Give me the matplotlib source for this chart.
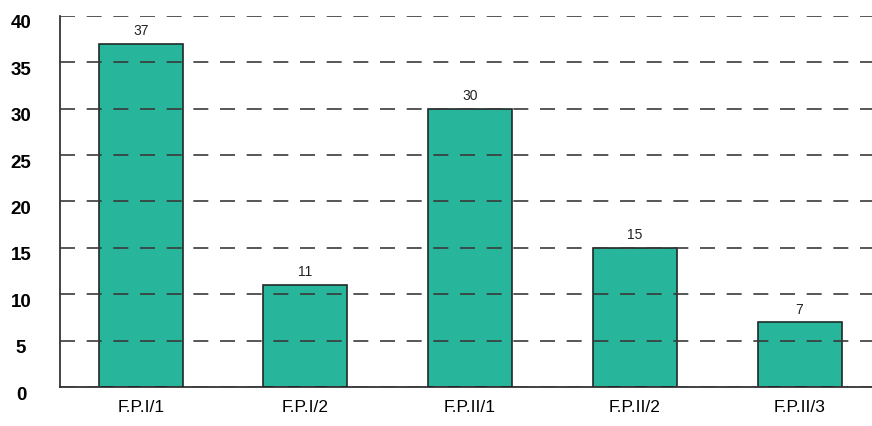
import matplotlib
matplotlib.use("Agg")
import matplotlib.pyplot as plt
import matplotlib.transforms as mtransforms

categories = ["F.P.I/1", "F.P.I/2", "F.P.II/1", "F.P.II/2", "F.P.II/3"]
values = [37, 11, 30, 15, 7]
yticks = [0, 5, 10, 15, 20, 25, 30, 35, 40]

plt.rcParams['font.family'] = ['Liberation Sans', 'DejaVu Sans']

fig = plt.figure(figsize=(8.72, 4.26), dpi=100)
ax = fig.add_axes([0.0688, 0.0915, 0.9312, 0.871])

x = range(len(categories))
bars = ax.bar(x, values, width=0.51, color="#27b59b", edgecolor="#1f2a26", linewidth=1.2, zorder=2)

for xi, v in zip(x, values):
    ax.text(xi, v + 0.6, str(v), ha="center", va="bottom", fontsize=10, color="#222222")

ax.set_ylim(0, 40)
ax.set_xlim(-0.49, 4.44)
ax.set_yticks(yticks)
ax.set_xticks(list(x))
ax.set_xticklabels(categories, fontsize=12.5)
ax.tick_params(axis="y", labelsize=13.5, length=0, pad=28)
ax.tick_params(axis="x", length=0, pad=9)

# labels in the original sit a bit low relative to the gridlines
shift = mtransforms.ScaledTranslation(0, -6 / 100, fig.dpi_scale_trans)
for lbl in ax.get_yticklabels():
    lbl.set_fontweight("bold")
    lbl.set_horizontalalignment("center")
    lbl.set_transform(lbl.get_transform() + shift)

ax.yaxis.grid(True, linestyle=(0, (9, 7)), color="#3a3a3a", linewidth=1.2, zorder=3)
ax.set_axisbelow(False)

ax.spines["top"].set_visible(False)
ax.spines["right"].set_visible(False)
ax.spines["left"].set_color("#222222")
ax.spines["bottom"].set_color("#222222")
ax.spines["left"].set_linewidth(1.2)
ax.spines["bottom"].set_linewidth(1.2)

fig.savefig("out.png", dpi=100)
